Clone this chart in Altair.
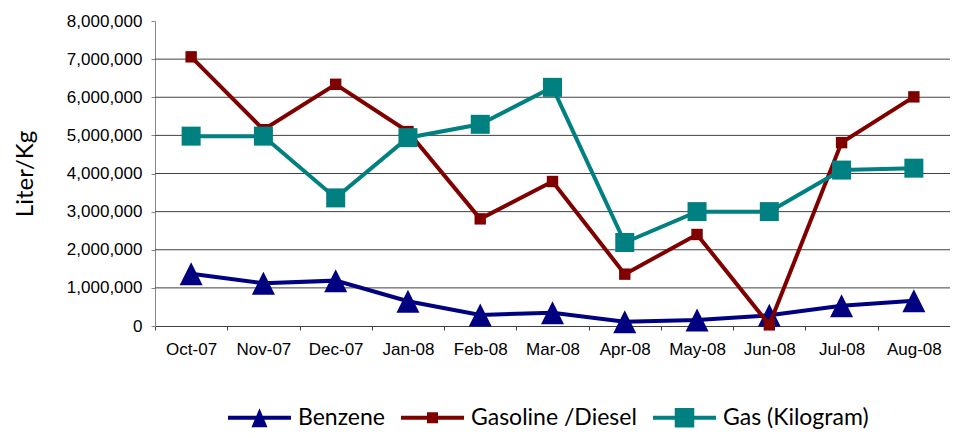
import altair as alt
import pandas as pd

months = ["Oct-07", "Nov-07", "Dec-07", "Jan-08", "Feb-08", "Mar-08",
          "Apr-08", "May-08", "Jun-08", "Jul-08", "Aug-08"]
series_names = ["Benzene", "Gasoline /Diesel", "Gas (Kilogram)"]
benzene = [1370000, 1120000, 1190000, 650000, 290000, 350000,
           110000, 160000, 280000, 530000, 660000]
gasoline = [7060000, 5150000, 6340000, 5100000, 2810000, 3790000,
            1360000, 2400000, 30000, 4810000, 6010000]
gas = [4980000, 4980000, 3360000, 4940000, 5290000, 6260000,
       2190000, 3000000, 3000000, 4090000, 4140000]
y_ticks = [0, 1000000, 2000000, 3000000, 4000000, 5000000, 6000000, 7000000, 8000000]
grid_values = [1000000, 2000000, 3000000, 4000000, 5000000, 6000000, 7000000]
colors = ["#000080", "#800000", "#008080"]

rows = []
for name, vals in zip(series_names, [benzene, gasoline, gas]):
    for m, v in zip(months, vals):
        rows.append({"month": m, "series": name, "value": v})
df = pd.DataFrame(rows)
grid_df = pd.DataFrame({"value": grid_values})

x_scale = alt.Scale(type="band", domain=months, paddingInner=0, paddingOuter=0)
y_scale = alt.Scale(domain=[0, 8000000], nice=False)

x_axis = alt.Axis(title=None, labelAngle=0, tickBand="extent",
                  domainColor="#404040", tickColor="#404040", tickSize=4,
                  labelFont="Liberation Sans", labelFontSize=17,
                  labelColor="black", labelPadding=11, grid=False)
y_axis = alt.Axis(values=y_ticks, format=",.0f", title="Liter/Kg",
                  titleFont="Lato", titleFontSize=24, titleFontWeight="normal",
                  titleColor="black", titleX=-130, titleY=152.5, titleAngle=270,
                  titleBaseline="middle", titleAlign="center",
                  grid=False, domainColor="#888888", tickColor="#888888",
                  tickSize=4, labelPadding=9, labelFont="Liberation Sans",
                  labelFontSize=17, labelColor="black")

x_enc = alt.X("month:N", scale=x_scale, sort=months, axis=x_axis)
y_enc = alt.Y("value:Q", scale=y_scale, axis=y_axis)

grid = alt.Chart(grid_df).mark_rule(color="#404040", strokeWidth=1).encode(
    y=y_enc
)

marker_shapes = ["M0,-1L1,1L-1,1Z", "square", "square"]
marker_sizes = [529, 130, 361]

layers = [grid]
for name, col, shp, sz in zip(series_names, colors, marker_shapes, marker_sizes):
    base = alt.Chart(df).transform_filter(alt.datum.series == name)
    layers.append(base.mark_line(strokeWidth=4, color=col).encode(x=x_enc, y=y_enc))
    layers.append(base.mark_point(filled=True, opacity=1, strokeWidth=0, color=col,
                                  shape=shp, size=sz).encode(x=x_enc, y=y_enc))

legend_paths = [
    "M-1,-0.065H1V0.065H-1Z M0,-0.3L0.254,0.3L-0.254,0.3Z",
    "M-1,-0.065H1V0.065H-1Z M-0.175,-0.175H0.175V0.175H-0.175Z",
    "M-1,-0.065H1V0.065H-1Z M-0.31,-0.31H0.31V0.31H-0.31Z",
]
leg = alt.Legend(title=None, orient="none", legendX=73, legendY=365,
                 direction="horizontal", symbolSize=3969, symbolStrokeWidth=0,
                 symbolOpacity=1, labelFont="Lato", labelFontSize=23, labelOffset=7,
                 columnPadding=16, padding=0, labelColor="black", labelLimit=400)

legend_layer = alt.Chart(df).transform_filter("false").transform_calculate(
    lseries="datum.series"
).mark_point(filled=True).encode(
    color=alt.Color("lseries:N", scale=alt.Scale(domain=series_names, range=colors), legend=leg),
    shape=alt.Shape("lseries:N", scale=alt.Scale(domain=series_names, range=legend_paths), legend=leg),
)
layers.append(legend_layer)

chart = alt.layer(*layers).properties(
    width=795, height=305,
    autosize=alt.AutoSizeParams(type="none"),
    padding={"left": 147, "top": 13, "right": 0, "bottom": 104},
    background="white",
).configure_view(stroke=None)

chart.save("out.html", embed_options={"renderer": "svg", "actions": False})
